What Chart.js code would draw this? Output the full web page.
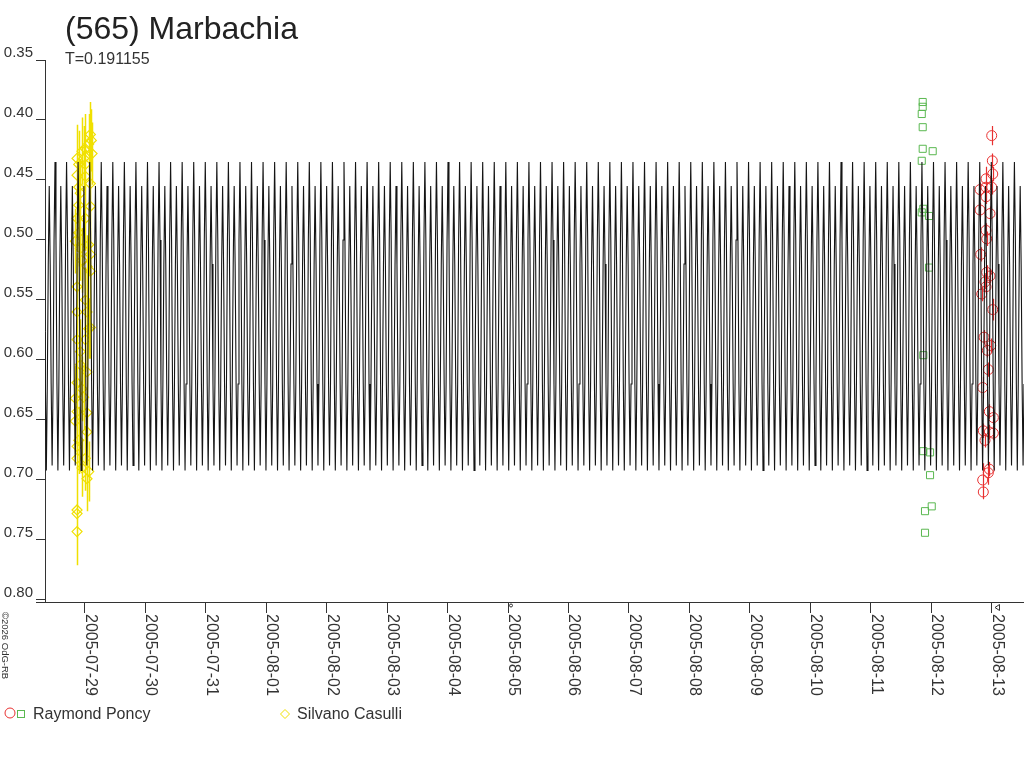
<!DOCTYPE html>
<html>
<head>
<meta charset="utf-8">
<title>(565) Marbachia</title>
<script src="https://cdn.jsdelivr.net/npm/chart.js@4.4.1/dist/chart.umd.min.js"></script>
<style>
    html, body { margin: 0; padding: 0; background: #fff; }
    #wrap { width: 1024px; height: 768px; }
</style>
</head>
<body>
<div id="wrap"><canvas id="myChart" width="1024" height="768"></canvas></div>
<script>
// x values are days since 2005-07-29 00:00 UT
var xMin = -0.657;
var xMax = 15.533;
var xTickValues = [0, 1, 2, 3, 4, 5, 6, 7, 8, 9, 10, 11, 12, 13, 14, 15];
var xTickLabels = ['2005-07-29', '2005-07-30', '2005-07-31', '2005-08-01', '2005-08-02', '2005-08-03',
    '2005-08-04', '2005-08-05', '2005-08-06', '2005-08-07', '2005-08-08', '2005-08-09',
    '2005-08-10', '2005-08-11', '2005-08-12', '2005-08-13'];

var yMin = 0.35;
var yMax = 0.8017;
var yTickValues = [0.35, 0.40, 0.45, 0.50, 0.55, 0.60, 0.65, 0.70, 0.75, 0.80];
var yTickLabels = ['0.35', '0.40', '0.45', '0.50', '0.55', '0.60', '0.65', '0.70', '0.75', '0.80'];

// fitted lightcurve: one cycle, repeated with the period
var period = 0.191155;
var phaseZero = 0.082;
var cycleMag = [0.435, 0.500, 0.620, 0.692, 0.620, 0.520, 0.455, 0.520, 0.620, 0.688, 0.620, 0.500];

// Silvano Casulli
var casulliX = [0.093, 0.109, 0.066, 0.010, -0.045, -0.127, -0.017, 0.121, -0.099, 0.010,
    -0.127, 0.010, 0.093, -0.099, -0.073, 0.093, -0.099, -0.127, 0.010, -0.099,
    -0.155, 0.066, -0.073, 0.093, -0.045, 0.038, 0.093, -0.127, 0.010, -0.127,
    0.038, 0.093, 0.066, -0.127, 0.010, -0.073, -0.073, 0.038, -0.127, -0.045,
    -0.155, -0.017, -0.127, 0.038, -0.155, 0.038, -0.099, -0.127, -0.127, 0.010,
    -0.045, 0.066, 0.038, -0.127, -0.127, -0.127];
var casulliY = [0.412, 0.417, 0.420, 0.424, 0.426, 0.432, 0.432, 0.428, 0.437, 0.437,
    0.446, 0.447, 0.453, 0.456, 0.461, 0.472, 0.471, 0.482, 0.482, 0.494,
    0.501, 0.504, 0.507, 0.512, 0.517, 0.522, 0.526, 0.539, 0.550, 0.560,
    0.560, 0.573, 0.574, 0.583, 0.583, 0.593, 0.604, 0.610, 0.619, 0.624,
    0.632, 0.631, 0.643, 0.644, 0.651, 0.660, 0.667, 0.672, 0.682, 0.682,
    0.690, 0.693, 0.699, 0.725, 0.728, 0.743];
var casulliErr = [0.027, 0.026, 0.025, 0.029, 0.028, 0.028, 0.027, 0.026, 0.028, 0.027,
    0.028, 0.027, 0.026, 0.028, 0.027, 0.026, 0.028, 0.028, 0.027, 0.028,
    0.027, 0.025, 0.027, 0.026, 0.027, 0.026, 0.026, 0.028, 0.027, 0.028,
    0.026, 0.026, 0.025, 0.028, 0.027, 0.027, 0.027, 0.026, 0.028, 0.027,
    0.027, 0.027, 0.028, 0.026, 0.027, 0.026, 0.028, 0.028, 0.028, 0.027,
    0.024, 0.025, 0.027, 0.028, 0.028, 0.028];

// Raymond Poncy, session 1 (squares)
var poncy1X = [13.858, 13.858, 13.842, 13.858, 13.858, 14.023, 13.842, 13.868, 13.842, 13.962,
    13.962, 13.868, 13.868, 13.979, 13.979, 14.007, 13.896, 13.896];
var poncy1Y = [0.385, 0.389, 0.395, 0.406, 0.424, 0.426, 0.434, 0.474, 0.477, 0.480,
    0.523, 0.596, 0.676, 0.677, 0.696, 0.722, 0.726, 0.744];

// Raymond Poncy, session 2 (circles)
var poncy2X = [14.999, 15.009, 15.016, 14.905, 14.999, 14.905, 14.806, 14.905, 14.806, 14.971,
    14.905, 14.916, 14.817, 14.916, 14.971, 14.888, 14.905, 14.834, 15.016, 14.872,
    14.983, 14.927, 14.943, 14.850, 14.960, 15.026, 14.860, 14.960, 15.026, 14.888,
    14.960, 14.943, 14.850, 14.860];
var poncy2Y = [0.413, 0.434, 0.445, 0.449, 0.456, 0.456, 0.458, 0.464, 0.475, 0.478,
    0.492, 0.499, 0.512, 0.527, 0.530, 0.535, 0.539, 0.545, 0.558, 0.581,
    0.588, 0.592, 0.608, 0.623, 0.643, 0.648, 0.659, 0.660, 0.661, 0.667,
    0.691, 0.694, 0.700, 0.710];
var poncy2Err = [0.008, 0.006, 0.006, 0.010, 0.006, 0.006, 0.006, 0.006, 0.006, 0.006,
    0.006, 0.006, 0.006, 0.006, 0.006, 0.006, 0.006, 0.006, 0.009, 0.006,
    0.006, 0.006, 0.006, 0.009, 0.006, 0.006, 0.006, 0.006, 0.006, 0.006,
    0.006, 0.010, 0.014, 0.006];

var FONT = '"Liberation Sans", Arial, sans-serif';
var TEXT = '#333333';
var YELLOW = '#f0e000';
var RED = '#e83030';
var GREEN = '#5ab850';

function toPoints(xs, ys) {
    let arr = [];
    for (let i = 0; i < xs.length; i++) {
        arr.push({ x: xs[i], y: ys[i] });
    }
    return arr;
}

function buildCurve() {
    let pts = [];
    let kStart = Math.floor((xMin - phaseZero) / period) - 1;
    let kEnd = Math.ceil((xMax - phaseZero) / period) + 1;
    for (let k = kStart; k <= kEnd; k++) {
        for (let i = 0; i < cycleMag.length; i++) {
            pts.push({ x: phaseZero + (k + i / cycleMag.length) * period, y: cycleMag[i] });
        }
    }
    return pts;
}

function drawErrors(chart, xs, ys, errs, color, width) {
    let ctx = chart.ctx;
    let sx = chart.scales.x, sy = chart.scales.y;
    ctx.strokeStyle = color;
    ctx.lineWidth = width;
    ctx.beginPath();
    for (let i = 0; i < xs.length; i++) {
        if (!errs[i]) continue;
        let px = Math.round(sx.getPixelForValue(xs[i])) + 0.5;
        ctx.moveTo(px, sy.getPixelForValue(ys[i] - errs[i]));
        ctx.lineTo(px, sy.getPixelForValue(ys[i] + errs[i]));
    }
    ctx.stroke();
}

var extras = {
    id: 'extras',
    beforeDatasetsDraw: function(chart) {
        let ctx = chart.ctx, a = chart.chartArea;
        ctx.save();
        ctx.beginPath();
        ctx.rect(a.left, a.top, a.right - a.left, a.bottom - a.top);
        ctx.clip();
        drawErrors(chart, casulliX, casulliY, casulliErr, YELLOW, 1.5);
        drawErrors(chart, poncy2X, poncy2Y, poncy2Err, RED, 1.2);
        ctx.restore();
    },
    afterDraw: function(chart) {
        let ctx = chart.ctx;
        let sx = chart.scales.x;
        let bottom = chart.chartArea.bottom;
        ctx.save();

        // title
        ctx.fillStyle = '#222222';
        ctx.textAlign = 'left';
        ctx.textBaseline = 'alphabetic';
        ctx.font = '32px ' + FONT;
        ctx.fillText('(565) Marbachia', 65, 39);
        ctx.fillStyle = TEXT;
        ctx.font = '16px ' + FONT;
        ctx.fillText('T=0.191155', 65, 64);

        // x axis stub left of the y axis
        ctx.strokeStyle = TEXT;
        ctx.lineWidth = 1;
        ctx.beginPath();
        ctx.moveTo(36, Math.round(bottom) + 0.5);
        ctx.lineTo(46, Math.round(bottom) + 0.5);
        ctx.stroke();

        // date labels, read top to bottom
        ctx.font = '16px ' + FONT;
        ctx.fillStyle = TEXT;
        for (let i = 0; i < xTickValues.length; i++) {
            let px = Math.round(sx.getPixelForValue(xTickValues[i]));
            ctx.save();
            ctx.translate(px + 1, bottom + 12);
            ctx.rotate(Math.PI / 2);
            ctx.fillText(xTickLabels[i], 0, 0);
            ctx.restore();
        }

        // small moon marks above two of the dates
        let p5 = Math.round(sx.getPixelForValue(xTickValues[7]));
        ctx.beginPath();
        ctx.arc(p5 + 3, bottom + 3.5, 1.5, 0, Math.PI * 2);
        ctx.stroke();
        let p13 = Math.round(sx.getPixelForValue(xTickValues[15]));
        ctx.beginPath();
        ctx.moveTo(p13 + 3, bottom + 5.5);
        ctx.lineTo(p13 + 7.5, bottom + 2.5);
        ctx.lineTo(p13 + 7.5, bottom + 8.5);
        ctx.closePath();
        ctx.stroke();

        // copyright
        ctx.save();
        ctx.font = '9.5px ' + FONT;
        ctx.translate(2, 612);
        ctx.rotate(Math.PI / 2);
        ctx.fillText('\u00a92026 OdG-RB', 0, 0);
        ctx.restore();

        // legend
        ctx.lineWidth = 1;
        ctx.strokeStyle = RED;
        ctx.beginPath();
        ctx.arc(10, 713, 5, 0, Math.PI * 2);
        ctx.stroke();
        ctx.strokeStyle = GREEN;
        ctx.strokeRect(17.5, 710.5, 7, 7);
        ctx.strokeStyle = YELLOW;
        ctx.beginPath();
        ctx.moveTo(285, 709.5);
        ctx.lineTo(289.5, 714);
        ctx.lineTo(285, 718.5);
        ctx.lineTo(280.5, 714);
        ctx.closePath();
        ctx.stroke();
        ctx.fillStyle = TEXT;
        ctx.font = '16px ' + FONT;
        ctx.fillText('Raymond Poncy', 33, 719);
        ctx.fillText('Silvano Casulli', 297, 719);

        ctx.restore();
    }
};

function makeChart() {
    var ctx = document.getElementById('myChart').getContext('2d');
    return new Chart(ctx, {
        type: 'line',
        data: {
            datasets: [{
                label: 'fit',
                data: buildCurve(),
                borderColor: '#151515',
                borderWidth: 1.1,
                pointRadius: 0,
                tension: 0,
                fill: false,
                order: 0
            }, {
                type: 'scatter',
                label: 'Silvano Casulli',
                data: toPoints(casulliX, casulliY),
                pointStyle: 'rectRot',
                pointRadius: 5,
                borderColor: YELLOW,
                backgroundColor: 'rgba(0,0,0,0)',
                borderWidth: 1.2,
                order: 1
            }, {
                type: 'scatter',
                label: 'Raymond Poncy',
                data: toPoints(poncy1X, poncy1Y),
                pointStyle: 'rect',
                pointRadius: 5,
                borderColor: GREEN,
                backgroundColor: 'rgba(0,0,0,0)',
                borderWidth: 1,
                order: 1
            }, {
                type: 'scatter',
                label: 'Raymond Poncy',
                data: toPoints(poncy2X, poncy2Y),
                pointStyle: 'circle',
                pointRadius: 5,
                borderColor: RED,
                backgroundColor: 'rgba(0,0,0,0)',
                borderWidth: 1,
                order: 1
            }]
        },
        options: {
            responsive: false,
            animation: false,
            devicePixelRatio: 1,
            events: [],
            layout: { autoPadding: false, padding: { top: 60, left: 0, right: 0, bottom: 0 } },
            plugins: {
                legend: { display: false },
                tooltip: { enabled: false },
                title: { display: false }
            },
            scales: {
                x: {
                    type: 'linear',
                    bounds: 'data',
                    min: xMin,
                    max: xMax,
                    afterFit: function(s) { s.height = 166; },
                    afterBuildTicks: function(s) {
                        s.ticks = xTickValues.map(function(v) { return { value: v }; });
                    },
                    ticks: { callback: function() { return ''; }, autoSkip: false, maxRotation: 0, padding: 0 },
                    grid: { drawOnChartArea: false, drawTicks: true, tickLength: 11, color: TEXT },
                    border: { color: TEXT, width: 1 }
                },
                y: {
                    type: 'linear',
                    bounds: 'data',
                    reverse: true,
                    min: yMin,
                    max: yMax,
                    afterFit: function(s) { s.width = 45; },
                    afterBuildTicks: function(s) {
                        s.ticks = yTickValues.map(function(v) { return { value: v }; });
                    },
                    ticks: {
                        callback: function(v, i) { return yTickLabels[i]; },
                        font: { size: 15, family: FONT },
                        color: TEXT,
                        padding: 3,
                        labelOffset: -7,
                        autoSkip: false
                    },
                    grid: { drawOnChartArea: false, drawTicks: true, tickLength: 9, color: TEXT },
                    border: { color: TEXT, width: 1 }
                }
            }
        },
        plugins: [extras]
    });
}

var myChart = makeChart();
</script>
</body>
</html>
